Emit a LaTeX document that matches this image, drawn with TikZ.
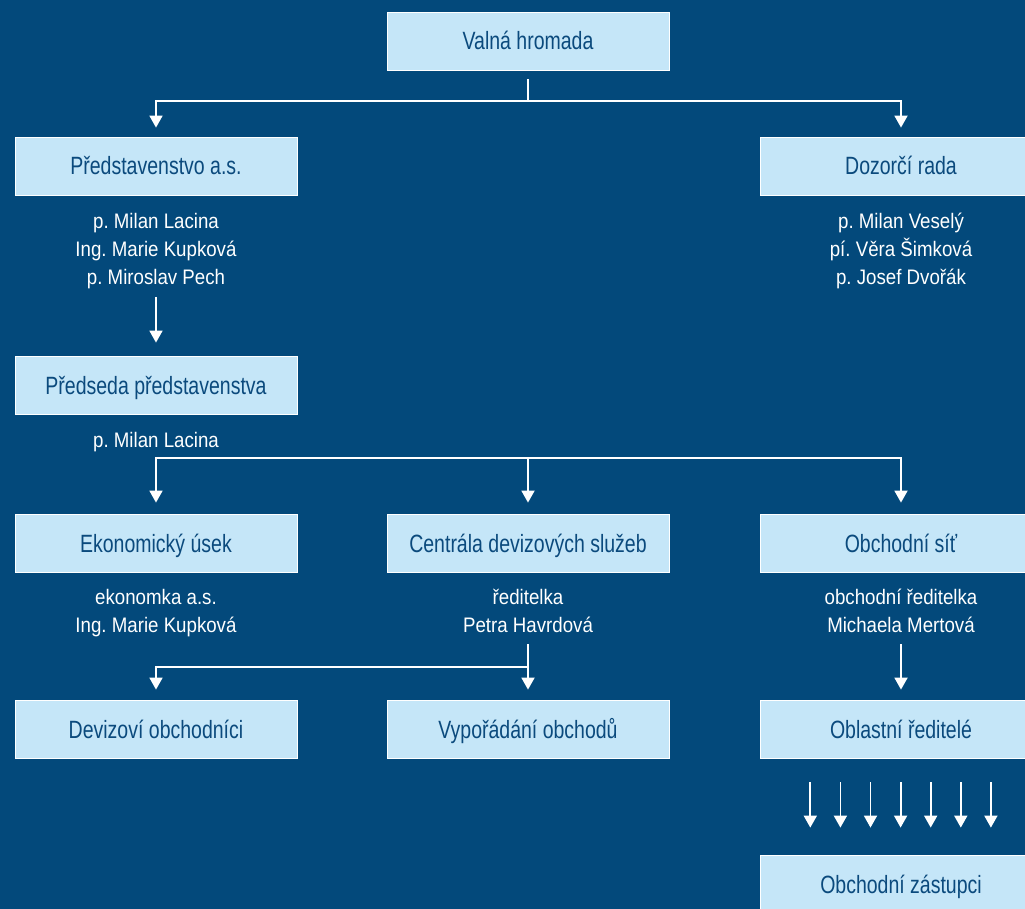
\documentclass[tikz,border=0pt]{standalone}
\usepackage{fontspec}
\setmainfont{Liberation Sans}
\newfontfamily\boxfont[FakeStretch=0.78]{Liberation Sans}
\newfontfamily\namefont[FakeStretch=0.89]{Liberation Sans}
\usetikzlibrary{arrows.meta}
\definecolor{bg}{HTML}{03497B}
\definecolor{boxfill}{HTML}{C5E6F8}
\definecolor{boxtext}{HTML}{0B4A7D}
\frenchspacing
\tikzset{
  unit/.style={draw=white, line width=0.8pt, fill=boxfill, minimum width=282pt,
    minimum height=58pt, inner sep=0pt, text height=18pt, text depth=0pt,
    font=\boxfont\fontsize{25}{30}\selectfont, text=boxtext},
  names/.style={align=center, text=white, font=\namefont\fontsize{21}{28}\selectfont,
    inner sep=0pt, anchor=base},
  link/.style={draw=white, line width=1.8pt},
  arr/.style={link, -{Triangle[width=13pt,length=12pt]}, shorten >=10pt}
}
\begin{document}
\begin{tikzpicture}[x=1pt,y=-1pt]
\useasboundingbox (0,0) rectangle (1025,909);
\clip (0,0) rectangle (1025,909);
\fill[bg] (0,0) rectangle (1025,909);

% boxes
\node[unit] (vh) at (528,41)  {Valná hromada};
\node[unit] (pr) at (156,166) {Představenstvo a.s.};
\node[unit] (dr) at (901,166) {Dozorčí rada};
\node[unit] (pp) at (156,385) {Předseda představenstva};
\node[unit] (eu) at (156,543) {Ekonomický úsek};
\node[unit] (cd) at (528,543) {Centrála devizových služeb};
\node[unit] (os) at (901,543) {Obchodní síť};
\node[unit] (do) at (156,729) {Devizoví obchodníci};
\node[unit] (vo) at (528,729) {Vypořádání obchodů};
\node[unit] (or) at (901,729) {Oblastní ředitelé};
\node[unit] (oz) at (901,884) {Obchodní zástupci};

% names (anchor = baseline of the last line)
\node[names] (prn) at (156,285) {p. Milan Lacina\\Ing. Marie Kupková\\p. Miroslav Pech};
\node[names] (drn) at (901,285) {p. Milan Veselý\\pí. Věra Šimková\\p. Josef Dvořák};
\node[names] (ppn) at (156,447) {p. Milan Lacina};
\node[names] (eun) at (156,632) {ekonomka a.s.\\Ing. Marie Kupková};
\node[names] (cdn) at (528,632) {ředitelka\\Petra Havrdová};
\node[names] (osn) at (901,632) {obchodní ředitelka\\Michaela Mertová};

% connectors
\coordinate (bus1) at (528,101);
\draw[arr, shorten <=9pt, shorten >=9pt] (vh.south) -- (bus1) -| (pr.north);
\draw[arr, shorten >=9pt] (bus1) -| (dr.north);

\coordinate (p1) at (156,297);
\draw[arr, shorten >=13pt] (p1) -- (pp.north);

\coordinate (bus2) at (528,458);
\draw[arr, shorten >=11pt] (bus2) -| (eu.north);
\draw[arr, shorten >=11pt] (bus2) -| (os.north);
\draw[arr, shorten >=11pt] (bus2) -- (cd.north);

\coordinate (c3) at (528,644);
\coordinate (bus3) at (528,667);
\draw[arr] (c3) -- (vo.north);
\draw[arr] (bus3) -| (do.north);

\coordinate (o3) at (901,644);
\draw[arr] (o3) -- (or.north);

\foreach \i in {0,...,6} {
  \coordinate (s\i) at ({810.3+30.1*\i},782);
  \draw[arr, shorten >=27pt] (s\i) -- (s\i |- oz.north);
}
\end{tikzpicture}
\end{document}
